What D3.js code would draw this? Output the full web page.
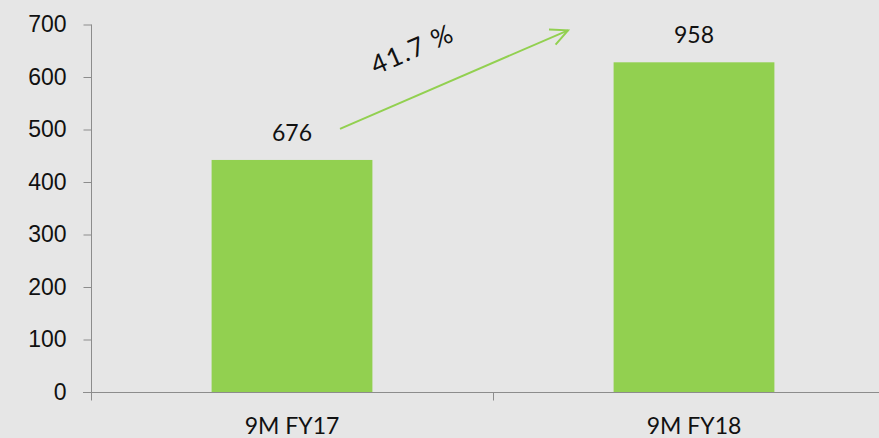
<!DOCTYPE html>
<html>
<head>
<meta charset="utf-8">
<script src="https://cdn.jsdelivr.net/npm/d3@7"></script>
<style>
  html, body { margin: 0; padding: 0; background: #e6e6e6; }
  svg { display: block; font-family: Lato, "Noto Sans", sans-serif; }
</style>
</head>
<body>
<div id="chart"></div>
<script>
// categories and values
const categories = ['9M FY17', '9M FY18'];
const barValues = [442, 628];          // bar heights as drawn
const barLabels = ['676', '958'];      // data labels shown above the bars
const yTicks = [0, 100, 200, 300, 400, 500, 600, 700];
const growthLabel = '41.7 %';

const W = 879, H = 438;
const margin = { top: 24, right: -16, bottom: 46, left: 91 };

const svg = d3.select('#chart').append('svg')
    .attr('width', W)
    .attr('height', H);

svg.append('rect')
    .attr('width', W).attr('height', H)
    .attr('fill', '#e6e6e6');

const x = d3.scaleBand()
    .domain(categories)
    .range([margin.left, W - margin.right])
    .paddingInner(0)
    .paddingOuter(0);

const y = d3.scaleLinear()
    .domain([0, 700])
    .range([H - margin.bottom, margin.top + 0.5]);

const axisColor = '#8c8c8c';

// y axis
const yAxis = svg.append('g')
    .attr('transform', `translate(${margin.left + 0.5},0)`)
    .call(d3.axisLeft(y).tickValues(yTicks).tickSize(8).tickPadding(17));
yAxis.select('.domain').attr('stroke', axisColor).attr('d', `M0,${y(700)}V${y(0) + 8}`);
yAxis.selectAll('.tick line').attr('stroke', axisColor);
yAxis.selectAll('.tick text')
    .attr('fill', '#111')
    .style('font-size', '23px');

// x axis
const xAxis = svg.append('g')
    .attr('transform', `translate(0,${y(0) + 0.5})`);
xAxis.append('line')
    .attr('x1', margin.left - 8).attr('x2', W)
    .attr('stroke', axisColor);
xAxis.selectAll('.bound')
    .data(categories)
    .join('line')
    .attr('class', 'bound')
    .attr('x1', d => x(d) + 0.5).attr('x2', d => x(d) + 0.5)
    .attr('y1', 0).attr('y2', 8)
    .attr('stroke', axisColor);
xAxis.selectAll('.cat')
    .data(categories)
    .join('text')
    .attr('class', 'cat')
    .attr('x', d => x(d) + x.bandwidth() / 2)
    .attr('y', 41)
    .attr('text-anchor', 'middle')
    .attr('fill', '#111')
    .style('font-size', '23px')
    .text(d => d);

// bars
const barW = x.bandwidth() * 0.4;
svg.selectAll('.bar')
    .data(categories)
    .join('rect')
    .attr('class', 'bar')
    .attr('x', d => x(d) + (x.bandwidth() - barW) / 2)
    .attr('y', (d, i) => y(barValues[i]))
    .attr('width', barW)
    .attr('height', (d, i) => y(0) - y(barValues[i]))
    .attr('fill', '#92d050');

// data labels
svg.selectAll('.lbl')
    .data(categories)
    .join('text')
    .attr('class', 'lbl')
    .attr('x', d => x(d) + x.bandwidth() / 2)
    .attr('y', (d, i) => y(barValues[i]) - 19)
    .attr('text-anchor', 'middle')
    .attr('fill', '#111')
    .style('font-size', '23px')
    .text((d, i) => barLabels[i]);

// growth arrow
const x0 = x(categories[0]) + x.bandwidth() / 2 + 48;
const y0 = y(barValues[0]) - 31;
const x1 = x(categories[1]) + x.bandwidth() / 2 - 126;
const y1 = y(barValues[1]) - 32;
const ang = Math.atan2(y1 - y0, x1 - x0);
const head = 19;
const arrow = svg.append('g')
    .attr('stroke', '#92d050')
    .attr('stroke-width', 2)
    .attr('fill', 'none');
arrow.append('line')
    .attr('x1', x0).attr('y1', y0)
    .attr('x2', x1).attr('y2', y1);
arrow.append('path')
    .attr('d', `M${x1 - head * Math.cos(ang - 0.45)},${y1 - head * Math.sin(ang - 0.45)}
                L${x1},${y1}
                L${x1 - head * Math.cos(ang + 0.45)},${y1 - head * Math.sin(ang + 0.45)}`);

svg.append('text')
    .attr('transform', `translate(${(x0 + x1) / 2 - 38},${(y0 + y1) / 2 - 22}) rotate(${ang * 180 / Math.PI})`)
    .attr('text-anchor', 'middle')
    .attr('fill', '#111')
    .style('font-size', '26px')
    .style('letter-spacing', '1.5px')
    .text(growthLabel);
</script>
</body>
</html>
